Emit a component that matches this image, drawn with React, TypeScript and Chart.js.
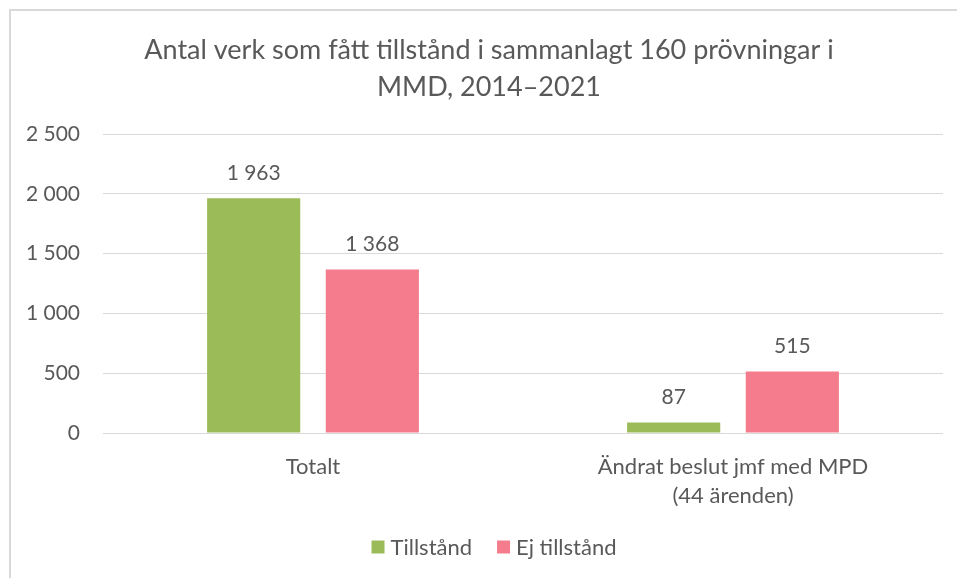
import { useEffect, useRef } from 'react';
import { Chart, registerables } from 'chart.js';

Chart.register(...registerables);

const categories: (string | string[])[] = ['Totalt', ['Ändrat beslut jmf med MPD', '(44 ärenden)']];
const seriesNames = ['Tillstånd', 'Ej tillstånd'];
const tillstand = [1963, 87];
const ejTillstand = [1368, 515];
const yTicks = [0, 500, 1000, 1500, 2000, 2500];
const titleLines = ['Antal verk som fått tillstånd i sammanlagt 160 prövningar i', 'MMD, 2014–2021'];
const seriesColors = ['#9BBB59', '#F47C8C'];

const FONT = 'Lato, "Open Sans", sans-serif';
const TEXT = '#595959';
const fmt = (v: number) => String(v).replace(/\B(?=(\d{3})+(?!\d))/g, ' ');

const decor = {
  id: 'decor',
  beforeDraw(chart: any) {
    const ctx = chart.ctx;
    ctx.save();
    ctx.fillStyle = '#ffffff';
    ctx.fillRect(0, 0, chart.width, chart.height);
    ctx.strokeStyle = '#d9d9d9';
    ctx.lineWidth = 2;
    ctx.beginPath();
    ctx.moveTo(10, chart.height);
    ctx.lineTo(10, 10);
    ctx.lineTo(chart.width, 10);
    ctx.stroke();
    ctx.restore();
  },
  afterDatasetsDraw(chart: any) {
    const ctx = chart.ctx;
    ctx.save();
    ctx.font = `21px ${FONT}`;
    ctx.fillStyle = TEXT;
    ctx.textAlign = 'center';
    ctx.textBaseline = 'middle';
    chart.data.datasets.forEach((ds: any, i: number) => {
      const meta = chart.getDatasetMeta(i);
      meta.data.forEach((el: any, j: number) => {
        ctx.fillText(fmt(ds.data[j]), el.x, el.y - 25);
      });
    });
    ctx.restore();
  },
  afterDraw(chart: any) {
    const ctx = chart.ctx;
    ctx.save();
    // title
    ctx.font = `27px ${FONT}`;
    ctx.fillStyle = TEXT;
    ctx.textAlign = 'center';
    ctx.textBaseline = 'middle';
    titleLines.forEach((line, i) => ctx.fillText(line, 489, 50 + i * 37));
    // legend
    ctx.font = `22px ${FONT}`;
    ctx.textAlign = 'left';
    const box = 13;
    const gapBoxText = 6;
    const gapItems = 25;
    const widths = seriesNames.map((n) => box + gapBoxText + ctx.measureText(n).width);
    const total = widths.reduce((a, b) => a + b, 0) + gapItems * (widths.length - 1);
    let x = 494 - total / 2;
    const y = 547;
    chart.data.datasets.forEach((ds: any, i: number) => {
      ctx.fillStyle = ds.backgroundColor;
      ctx.fillRect(x, y - box / 2, box, box);
      ctx.fillStyle = TEXT;
      ctx.fillText(ds.label, x + box + gapBoxText, y + 1);
      x += widths[i] + gapItems;
    });
    ctx.restore();
  },
};

export default function App() {
  const ref = useRef<HTMLCanvasElement>(null);
  useEffect(() => {
    if (!ref.current) return;
    const chart = new Chart(ref.current, {
      type: 'bar',
      data: {
        labels: categories,
        datasets: [
          { label: seriesNames[0], data: tillstand, backgroundColor: seriesColors[0] },
          { label: seriesNames[1], data: ejTillstand, backgroundColor: seriesColors[1] },
        ],
      },
      options: {
        responsive: false,
        animation: false,
        devicePixelRatio: 1,
        layout: { padding: { top: 134, right: 14, left: 0, bottom: 0 } },
        datasets: { bar: { categoryPercentage: 0.565, barPercentage: 0.785 } },
        plugins: { legend: { display: false }, title: { display: false }, tooltip: { enabled: false } },
        scales: {
          x: {
            grid: { display: false },
            border: { display: false },
            ticks: { color: TEXT, font: { family: FONT, size: 22, lineHeight: 1.34 }, padding: 11, maxRotation: 0 },
            afterFit: (s: any) => { s.height = 145; },
          },
          y: {
            min: 0,
            max: 2500,
            grid: { color: '#d9d9d9', lineWidth: 1, drawTicks: false },
            border: { display: false },
            ticks: { color: TEXT, font: { family: FONT, size: 21 }, padding: 23, callback: (v: any) => fmt(Number(v)) },
            afterBuildTicks: (s: any) => { s.ticks = yTicks.map((v) => ({ value: v })); },
            afterFit: (s: any) => { s.width = 103; },
          },
        },
      },
      plugins: [decor],
    });
    return () => chart.destroy();
  }, []);
  return (
    <div style={{ position: 'absolute', left: 0, top: 0, width: 957, height: 578 }}>
      <canvas ref={ref} width={957} height={578} />
    </div>
  );
}
